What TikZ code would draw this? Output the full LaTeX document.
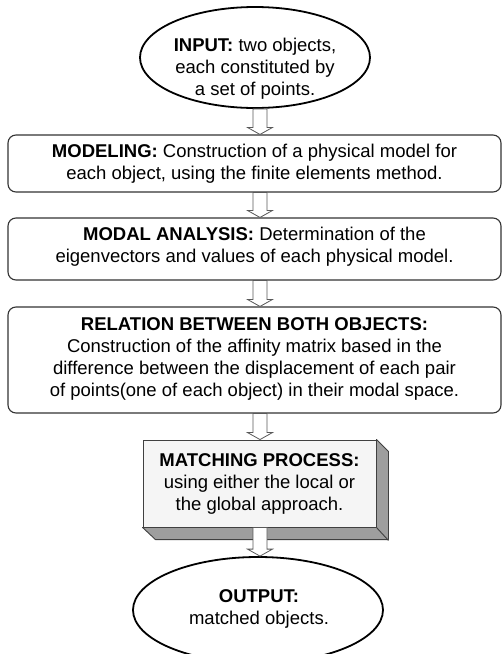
\documentclass[tikz,border=0pt]{standalone}
\usepackage{fontspec}
\setmainfont{Liberation Sans}
\usetikzlibrary{shapes.geometric,calc}
\tikzset{
  txt/.style={font=\fontsize{18.5}{22}\selectfont, align=center, inner sep=0pt},
  oval/.style={ellipse, draw=black, line width=1.8pt, inner sep=0pt},
  rbox/.style={draw=black!80, line width=1.1pt, rounded corners=8pt, minimum width=493pt, inner sep=0pt},
  flatbox/.style={draw=black!75, line width=0.9pt, fill=black!4, inner sep=0pt},
  shadowface/.style={draw=black!75, line width=0.9pt, fill=black!38, line join=round},
  arr/.style={draw=black!65, line width=0.8pt, fill=white, line join=miter},
}
\newcommand\hollowarrow[2]{%
  \draw[arr] let \p1=#1, \p2=#2 in
    (\x1-7pt,\y1) -- (\x1-7pt,\y2+7pt) -- (\x1-12.5pt,\y2+7pt) -- (\x1,\y2)
    -- (\x1+12.5pt,\y2+7pt) -- (\x1+7pt,\y2+7pt) -- (\x1+7pt,\y1) -- cycle;}
\begin{document}
\begin{tikzpicture}[x=1pt,y=-1pt]
\useasboundingbox[fill=white] (0,0) rectangle (503,654);
\begin{scope}
\clip (0,0) rectangle (503,654);
% input ellipse
\node[oval, minimum width=230pt, minimum height=101pt] (in) at (255,57.5) {};
\node[txt] (intxt) at (255,69) {\textbf{INPUT:} two objects,\\each constituted by\\a set of points.};
% modeling
\node[rbox, minimum height=57pt] (mod) at (254.5,163.5) {};
\node[txt] (modtxt) at (mod.center) {\textbf{MODELING:} Construction of a physical model for\\each object, using the finite elements method.};
% modal analysis
\node[rbox, minimum height=62pt] (ana) at (254.5,249) {};
\node[txt] (anatxt) at (254.5,246.5) {\textbf{MODAL ANALYSIS:} Determination of the\\eigenvectors and values of each physical model.};
% relation
\node[rbox, minimum height=106pt] (rel) at (254.5,360) {};
\node[txt] (reltxt) at (254.5,359) {\textbf{RELATION BETWEEN BOTH OBJECTS:}\\Construction of the affinity matrix based in the\\difference between the displacement of each pair\\of points(one of each object) in their modal space.};
% matching (3D box)
\node[flatbox, minimum width=233pt, minimum height=87pt] (mat) at (259.5,483.5) {};
\draw[shadowface] (mat.north east) -- ++(12,12) -- ++(0,88) -- ++(-233,0) -- (mat.south west) -- (mat.south east) -- cycle;
\draw[draw=black!75, line width=0.9pt] (mat.south east) -- ++(12,13);
\node[txt] (mattxt) at (mat.center) {\textbf{MATCHING PROCESS:}\\using either the local or\\the global approach.};
% output ellipse
\node[oval, minimum width=250pt, minimum height=106pt] (out) at (258,610) {};
\node[txt] (outtxt) at (259,609) {\textbf{OUTPUT:}\\matched objects.};
% arrows
\hollowarrow{([xshift=5pt]in.south)}{([xshift=5.5pt]mod.north)}
\hollowarrow{([xshift=5.5pt]mod.south)}{([xshift=5.5pt]ana.north)}
\hollowarrow{([xshift=5.5pt]ana.south)}{([xshift=5.5pt]rel.north)}
\hollowarrow{([xshift=5.5pt]rel.south)}{([xshift=0.5pt]mat.north)}
\hollowarrow{([xshift=0.5pt]mat.south)}{([xshift=2pt]out.north)}
\end{scope}
\end{tikzpicture}
\end{document}
